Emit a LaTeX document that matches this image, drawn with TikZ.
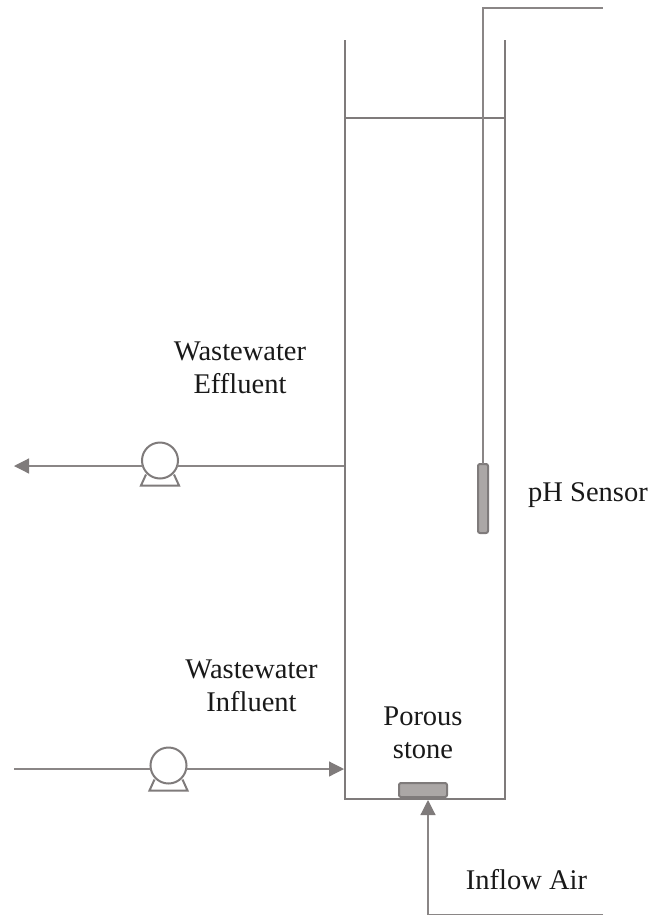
\documentclass[tikz,border=0pt]{standalone}
\usepackage{fontspec}
\setmainfont{Liberation Serif}
\usepackage{tikz}
\usetikzlibrary{arrows.meta,positioning}

\definecolor{pipegray}{HTML}{8A8686}
\definecolor{wallgray}{HTML}{7F7B7B}
\definecolor{partgray}{HTML}{ABA7A6}
\tikzset{
	pipe/.style={draw=pipegray,line width=1.2pt},
	wall/.style={draw=wallgray,line width=2pt},
	flow/.style={pipe,-{Triangle[length=15pt,width=15pt,color=wallgray]}},
	pump/.style={circle,draw=wallgray,line width=2pt,fill=white,minimum size=36pt,inner sep=0pt,outer sep=0pt},
	part/.style={draw=wallgray,line width=2pt,fill=partgray,rounded corners=2pt,inner sep=0pt,outer sep=0pt},
	label/.style={align=center,text=black!90,font=\fontsize{28.5}{33}\selectfont}
}

\begin{document}
\begin{tikzpicture}[x=1pt,y=-1pt]
			\useasboundingbox (0,0) rectangle (648,916);
			% vessel
			\coordinate (wallTL) at (344.5,40);
			\coordinate (wallBL) at (344.5,799);
			\coordinate (wallBR) at (504.5,799);
			\coordinate (wallTR) at (504.5,40);
			\coordinate (levelL) at (344.5,117.5);
			\coordinate (levelR) at (504.5,117.5);
			\draw[wall] (wallTL) -- (wallBL) -- (wallBR) -- (wallTR);
			\draw[wall] (levelL) -- (levelR);
			% pumps and lines
			\node[pump] (pumpOut) at (160,460.5) {};
			\node[pump] (pumpIn) at (168.5,765.5) {};
			\foreach \p in {pumpOut,pumpIn}
				\draw[wallgray,line width=2pt,shift={(\p)}] (-14,14) -- (-19,25) -- (19,25) -- (14,14);
			\coordinate (outWall) at (344,466);
			\coordinate (outEnd) at (14,466);
			\coordinate (inStart) at (14,769);
			\coordinate (inWall) at (344,769);
			\draw[pipe] (outWall) -- (outWall -| pumpOut.-17);
			\draw[flow] (outEnd -| pumpOut.197) -- (outEnd);
			\draw[pipe] (inStart) -- (inStart -| pumpIn.197);
			\draw[flow] (inWall -| pumpIn.-17) -- (inWall);
			% sensor
			\node[part,minimum width=10pt,minimum height=69pt] (sensor) at (483,498.5) {};
			\coordinate (wireEnd) at (603,8);
			\draw[pipe] (sensor.north) |- (wireEnd);
			% stone and air
			\node[part,minimum width=48pt,minimum height=14pt] (stone) at (423,790) {};
			\coordinate (airTip) at (428,800);
			\coordinate (airEnd) at (603,914.5);
			\draw[flow] (airEnd) -| (airTip);
			% labels
			\node[label] (effluent) at (240,368) {Wastewater\\Effluent};
			\node[label] (influent) at (251.5,686) {Wastewater\\Influent};
			\node[label] (porous) at (423,733) {Porous\\stone};
			\node[label] (phlabel) at (588,495) {pH Sensor};
			\node[label] (airlabel) at (526.5,880) {Inflow Air};
		\end{tikzpicture}
\end{document}
